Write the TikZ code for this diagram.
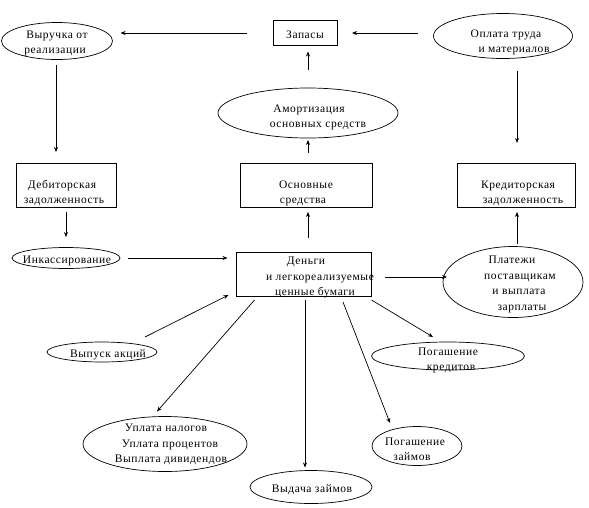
\documentclass[tikz,border=0pt]{standalone}
\usepackage{fontspec}
\setmainfont{Liberation Serif}[LetterSpace=5]
\usetikzlibrary{shapes.geometric,calc,arrows.meta}
\newcommand\zl[2][0pt]{\makebox[0pt]{\hspace*{#1}#2\hspace*{-#1}}}
\newcommand\tl[2][0pt]{\raisebox{\dimexpr-5pt-#1\relax}[0pt][0pt]{\begin{tabular}{@{}c@{}}#2\end{tabular}}}
\tikzset{
  every node/.style={inner sep=0pt,outer sep=0pt,font=\fontsize{11.5}{15.5}\selectfont},
  boxn/.style={draw,line width=0.8pt,rectangle},
  elln/.style={draw,line width=0.7pt,ellipse},
  arr/.style={line width=0.7pt,-{Stealth[length=5pt,width=4pt]}}
}
\begin{document}
\begin{tikzpicture}[x=1pt,y=-1pt]
\useasboundingbox (0,0) rectangle (589,507);
\node[elln,minimum width=111,minimum height=37] (rev) at (57,41) {\tl{\zl{Выручка от}\\\zl[-2pt]{реализации}}};
\node[boxn,minimum width=64,minimum height=25] (stock) at (305,33) {\tl{\zl{Запасы}}};
\node[elln,minimum width=139,minimum height=45] (pay) at (503,36) {\tl[4pt]{\zl[3pt]{Оплата труда}\\\zl[11pt]{и материалов}}};
\node[elln,minimum width=180,minimum height=50] (amort) at (308,113) {\tl[2pt]{\zl[1pt]{Амортизация}\\\zl[10pt]{основных средств}}};
\node[boxn,minimum width=132,minimum height=44] (fixed) at (306,185) {\tl[6pt]{\zl{Основные}\\\zl[-3pt]{средства}}};
\node[boxn,minimum width=100,minimum height=44] (debt) at (66,185) {\tl[6pt]{\zl[-4pt]{Дебиторская}\\\zl[-2pt]{задолженность}}};
\node[boxn,minimum width=118,minimum height=44] (cred) at (516,185) {\tl[6pt]{\zl[2pt]{Кредиторская}\\\zl[7pt]{задолженность}}};
\node[boxn,minimum width=135,minimum height=44] (money) at (304,274) {\tl[1pt]{\zl[2pt]{Деньги}\\\zl[16pt]{и легкореализуемые}\\\zl[11pt]{ценные бумаги}}};
\node[elln,minimum width=108,minimum height=21] (coll) at (66,258) {\tl{\zl[1pt]{Инкассирование}}};
\node[elln,minimum width=140,minimum height=71] (supp) at (513,282) {\tl[0pt]{\zl[-1pt]{Платежи}\\\zl[7pt]{поставщикам}\\\zl[6pt]{и выплата}\\\zl[9pt]{зарплаты}}};
\node[elln,minimum width=110,minimum height=20] (shares) at (102,352) {\tl{\zl[6pt]{Выпуск акций}}};
\node[elln,minimum width=164,minimum height=55] (tax) at (165,444) {\tl[-2pt]{\zl[1pt]{Уплата налогов}\\\zl[5pt]{Уплата процентов}\\\zl[6pt]{Выплата дивидендов}}};
\node[elln,minimum width=122,minimum height=33] (loanout) at (311,487) {\tl{\zl[1pt]{Выдача займов}}};
\node[elln,minimum width=90,minimum height=39] (loanrep) at (417,446) {\tl[2pt]{\zl[-2pt]{Погашение}\\\zl[-5pt]{займов}}};
\node[elln,minimum width=153,minimum height=28] (credrep) at (448,356) {\tl[2pt]{\zl{Погашение}\\\zl[3pt]{кредитов}}};
% connectors
\draw[arr] ($(stock.west)+(-26,0)$) -- ($(rev.east |- stock)+(8,0)$);
\draw[arr] ($(pay.west |- stock)+(-16,0)$) -- ($(stock.east)+(15,0)$);
\draw[arr] ($(pay.south)+(14,12)$) -- ($(cred.north)+(1,-20)$);
\draw[arr] ($(amort.north)+(0,-18)$) -- ($(stock.south)+(3,6)$);
\draw[arr] ($(fixed.north)+(2,-10)$) -- ($(amort.south)+(0,2)$);
\draw[arr] ($(money.north)+(4,-14)$) -- ($(fixed.south)+(2,5)$);
\draw[arr] ($(rev.south)+(-1,5)$) -- ($(debt.north)+(-10,-11)$);
\draw[arr] ($(debt.south)+(0,5)$) -- ($(coll.north)+(0,-10.5)$);
\draw[arr] ($(coll.east)+(8,0)$) -- ($(money.west |- coll)+(-9,0)$);
\draw[arr] ($(supp.north)+(4,-3)$) -- ($(cred.south)+(1,5)$);
\draw[arr] ($(money.east)+(13,3)$) -- ($(supp.west |- money.east)+(4,3)$);
\draw[arr] ($(shares.center)+(43,-15)$) -- ($(money.south west)+(-8,-1)$);
\draw[arr] ($(money.south west)+(18,4)$) -- ($(tax.north)+(-8,-5)$);
\draw[arr] ($(money.south)+(1,4)$) -- ($(loanout.north)+(-6,-3)$);
\draw[arr] ($(money.south)+(39,6)$) -- ($(loanrep.north)+(-27,-3.5)$);
\draw[arr] ($(money.south east)+(0,4)$) -- ($(credrep.north)+(-15,-5)$);
\end{tikzpicture}
\end{document}
